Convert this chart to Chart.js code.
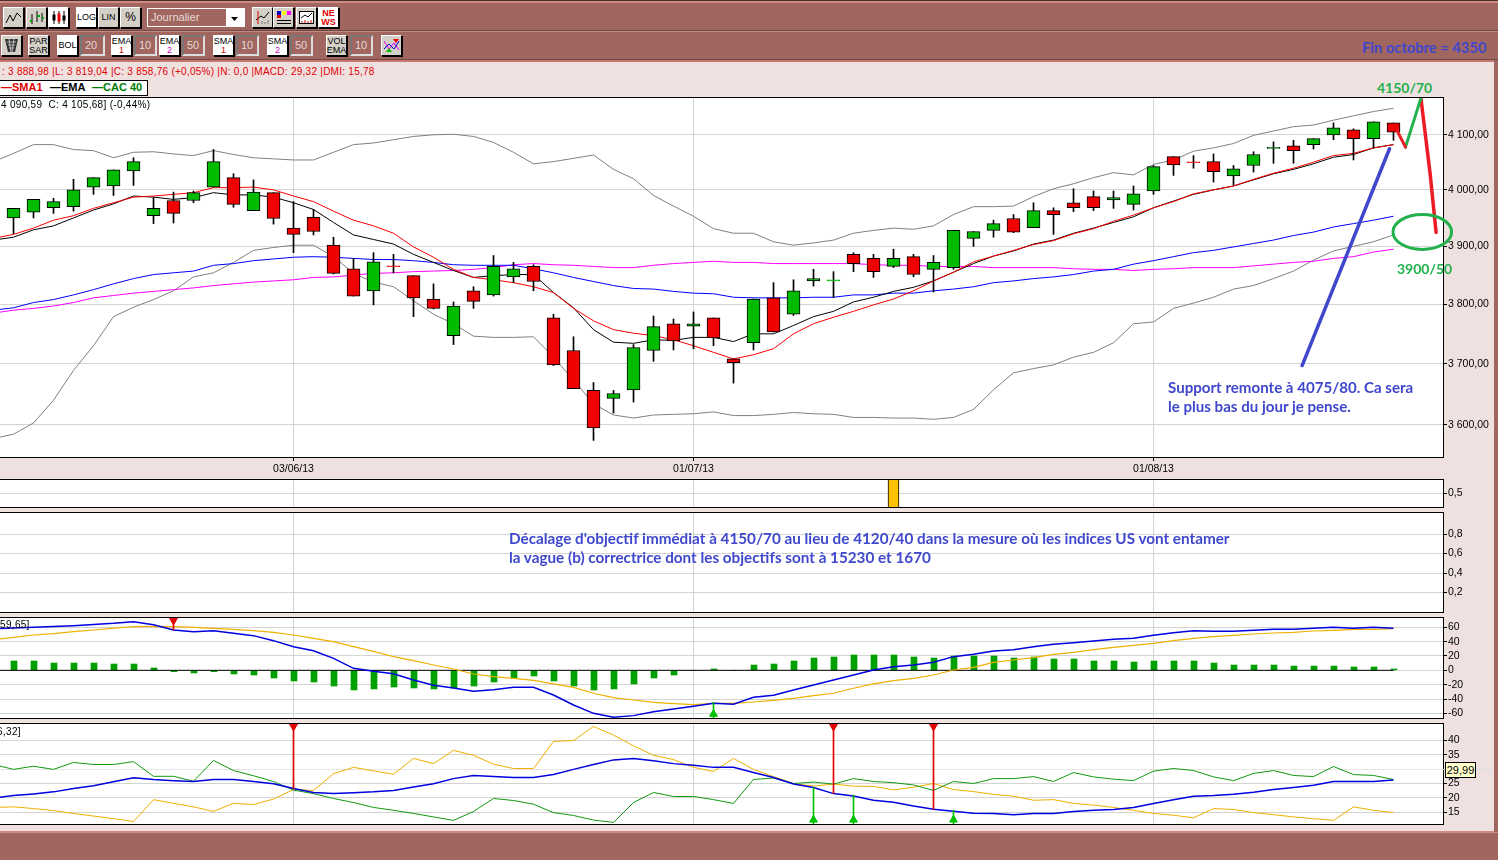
<!DOCTYPE html>
<html lang="fr">
<head>
<meta charset="utf-8">
<title>CAC 40 journalier</title>
<script src="https://cdn.jsdelivr.net/npm/chart.js@4"></script>
<style>
    html, body { margin: 0; padding: 0; }
    body { position: relative; width: 1498px; height: 860px; overflow: hidden; background: #f0e1e1; font-family: "Liberation Sans", Arial, sans-serif; }
    canvas { position: absolute; left: 0; }
    .band { position: absolute; background: #a0665f; }
    .rule { position: absolute; left: 0; width: 1498px; }
    .btn { position: absolute; top: 35px; width: 19px; height: 19px; box-sizing: content-box; background: #d4d0c8; border: 1px solid #000; border-left-color: #fff; border-top-color: #fff; font-size: 9px; line-height: 9px; text-align: center; color: #000; display: flex; align-items: center; justify-content: center; flex-direction: column; box-shadow: 1px 1px 0 #000; }
    .btn.on { background: #fff; }
    .row1 { top: 7px; }
    .btn small { font-size: 9px; line-height: 9px; }
    .fld { position: absolute; top: 35px; height: 17px; box-sizing: content-box; background: #a0665f; border: 2px solid; border-color: #777 #ddd #ddd #777; color: #e4d8d4; font-size: 11px; line-height: 17px; padding-left: 3px; }
    .txt { position: absolute; white-space: nowrap; }
    .note { position: absolute; white-space: nowrap; font-family: Lato, "Open Sans", sans-serif; font-weight: 700; color: #3f48cc; }
</style>
</head>
<body>
<div class="band" style="top:0;left:0;width:1498px;height:61px"></div>
<div class="rule" style="top:0;height:1px;background:#4a3230"></div>
<div class="rule" style="top:1px;height:2px;background:#d08a80"></div>
<div class="rule" style="top:30px;height:1px;background:#6e4a46"></div>
<div class="rule" style="top:31px;height:1px;background:#c08a80"></div>
<div class="rule" style="top:59px;height:1px;background:#6e4a46"></div>
<div class="rule" style="top:60px;height:2px;background:#c8786e"></div>
<div class="band" style="top:832px;left:0;width:1498px;height:28px"></div>
<div class="rule" style="top:831px;height:2px;background:#d08a80"></div>
<div class="band" style="top:60px;left:1494px;width:4px;height:772px"></div>

<!-- toolbar -->
<div class="btn row1" style="left:3px"><svg width="17" height="15"><polyline points="1,13 5,5 8,11 12,3 16,7" fill="none" stroke="#000"/></svg></div>
<div class="btn row1" style="left:26px"><svg width="17" height="15"><path d="M4 4v10M9 1v11M14 3v9" stroke="#000"/><path d="M2 11h2M9 6h3M14 8h2" stroke="#0a0" stroke-width="2"/></svg></div>
<div class="btn row1 on" style="left:48px"><svg width="17" height="15"><path d="M4 1v13M9 1v13M14 1v13" stroke="#000"/><rect x="2.5" y="4.5" width="3" height="6" fill="#000"/><rect x="7.5" y="3.5" width="3" height="8" fill="#e00"/><rect x="12.5" y="5.5" width="3" height="5" fill="#000"/></svg></div>
<div class="btn row1 on" style="left:76px">LOG</div>
<div class="btn row1" style="left:98px">LIN</div>
<div class="btn row1" style="left:120px;font-size:12px">%</div>
<div style="position:absolute;left:147px;top:8px;height:17px;border:1px solid #fff;background:#a0665f;color:#e8dcd8;font-size:11px;line-height:17px;padding-left:3px;box-sizing:content-box;width:93px">Journalier</div>
<div style="position:absolute;left:226px;top:9px;width:18px;height:17px;background:#fff"><svg width="18" height="17"><polygon points="5,8 12,8 8.5,12" fill="#000"/></svg></div>
<div class="btn row1" style="left:252px"><svg width="17" height="15"><polyline points="2,10 7,6 10,8 15,2" fill="none" stroke="#000"/><path d="M4 1v13" stroke="#d00"/><path d="M8 14v-3M11 14v-2M14 14v-4" stroke="#777"/></svg></div>
<div class="btn row1" style="left:273px"><svg width="17" height="15"><rect x="2" y="1" width="4" height="4" fill="#00c"/><rect x="7" y="1" width="4" height="4" fill="#ff0"/><rect x="12" y="1" width="4" height="4" fill="#f0f"/><rect x="2" y="5" width="4" height="3" fill="#e00"/><path d="M2 10.5h14M2 13.5h14" stroke="#000"/></svg></div>
<div class="btn row1" style="left:296px"><svg width="17" height="15"><rect x="1.5" y="1.5" width="14" height="12" fill="#fff" stroke="#000"/><polyline points="3,8 7,5 10,7 14,3" fill="none" stroke="#000"/><path d="M4 13v-2M7 13v-3M10 13v-2M13 13v-3" stroke="#d00"/></svg></div>
<div class="btn row1 on" style="left:318px;color:#e00000;font-weight:bold"><span>NE</span><span>WS</span></div>

<div class="btn" style="left:1px"><svg width="17" height="15"><polygon points="2,1 15,1 12,14 5,14" fill="#333"/><path d="M4 4h9M5 7h7M6 10h5M6 1l2 13M11 1l-2 13" stroke="#bbb"/></svg></div>
<div class="btn" style="left:28px"><span>PAR</span><span>SAR</span></div>
<div class="btn on" style="left:57px">BOL</div><div class="fld" style="left:80px;width:18px">20</div>
<div class="btn on" style="left:111px"><span>EMA</span><small style="color:#e00000">1</small></div><div class="fld" style="left:134px;width:16px">10</div>
<div class="btn on" style="left:159px"><span>EMA</span><small style="color:#c000c0">2</small></div><div class="fld" style="left:182px;width:16px">50</div>
<div class="btn on" style="left:213px"><span>SMA</span><small style="color:#e00000">1</small></div><div class="fld" style="left:236px;width:16px">10</div>
<div class="btn on" style="left:267px"><span>SMA</span><small style="color:#c000c0">2</small></div><div class="fld" style="left:290px;width:16px">50</div>
<div class="btn" style="left:326px"><span>VOL</span><span>EMA</span></div><div class="fld" style="left:350px;width:16px">10</div>
<div class="btn" style="left:381px"><svg width="17" height="15"><polyline points="1,3 6,11 11,5 16,12" fill="none" stroke="#e0f"/><polyline points="1,11 6,6 11,11 16,3" fill="none" stroke="#00c"/><polygon points="10,1 16,1 13,5" fill="#e00"/><polygon points="3,14 9,14 6,10" fill="#0b0"/></svg></div>
<div class="note" style="left:1362px;top:38px;font-size:14.7px">Fin octobre = 4350</div>

<!-- status line and legend -->
<div class="txt" style="left:2px;top:66px;font-size:10px;letter-spacing:.26px;color:#e00000">: 3 888,98 |L: 3 819,04 |C: 3 858,76 (+0,05%) |N: 0,0 |MACD: 29,32 |DMI: 15,78</div>
<div style="position:absolute;left:-1px;top:80px;width:147px;height:14px;background:#fff;border:1px solid #000"></div>
<div class="txt" style="left:1px;top:81px;font-size:11px;font-weight:bold;color:#e00000">—SMA1</div>
<div class="txt" style="left:50px;top:81px;font-size:11px;font-weight:bold;color:#000">—EMA</div>
<div class="txt" style="left:92px;top:81px;font-size:11px;font-weight:bold;color:#008000">—CAC 40</div>

<canvas id="priceChart" width="1498" height="382" style="top:97px"></canvas>
<canvas id="flagChart" width="1498" height="29" style="top:479px"></canvas>
<canvas id="emptyChart" width="1498" height="101" style="top:512px"></canvas>
<canvas id="macdChart" width="1498" height="102" style="top:617px"></canvas>
<canvas id="dmiChart" width="1498" height="102" style="top:723px"></canvas>

<div class="txt" style="left:1px;top:99px;font-size:10px;letter-spacing:.3px">4 090,59 &nbsp;C: 4 105,68] (-0,44%)</div>
<div class="txt" style="left:-3px;top:619px;font-size:10px;letter-spacing:.3px">[59,65]</div>
<div class="txt" style="left:-6px;top:726px;font-size:10px;letter-spacing:.3px">[6,32]</div>

<!-- hand written comments on the chart -->
<div class="note" style="left:1377px;top:79px;font-size:14px;color:#22b14c">4150/70</div>
<div class="note" style="left:1397px;top:260px;font-size:14px;color:#22b14c">3900/50</div>
<div class="note" style="left:1168px;top:378px;font-size:15.1px">Support remonte à 4075/80. Ca sera</div>
<div class="note" style="left:1168px;top:397px;font-size:15.1px">le plus bas du jour je pense.</div>
<div class="note" style="left:509px;top:529px;font-size:15.25px">Décalage d'objectif immédiat à 4150/70 au lieu de 4120/40 dans la mesure où les indices US vont entamer</div>
<div class="note" style="left:509px;top:548px;font-size:15.25px">la vague (b) correctrice dont les objectifs sont à 15230 et 1670</div>

<div style="position:absolute;left:1443px;top:769px;width:50px;height:1px;background:#d8e0e0"></div>
<div class="txt" style="left:1445px;top:762px;width:29px;height:14px;background:#ffffcc;border:1px solid #000;font-size:11px;line-height:14px;text-align:center">29,99</div>

<script>
// Daily candles (bar 0 sits at the left edge)
const opens = [3950,3960,3968,3970,4005,4007,4034,3954,3981,3981,
    4005,4022,3963,3995,3932,3951,3902,3861,3823,3865,
    3849,3809,3747,3823,3816,3847,3865,3777,3722,3656,
    3643,3657,3722,3767,3763,3777,3708,3735,3811,3783,
    3840,3840,3886,3879,3865,3882,3860,3863,3914,3928,
    3949,3933,3963,3977,3988,3982,3974,3998,4060,4049.5,
    4051,4025,4044,4075,4080,4082,4100,4109,4093,4122];
const highs = [3967,3983,3985,4019,4022,4036,4058,3986,3996,3998,
    4073,4029,4018,3995,3979,3965,3916,3879,3889,3886,
    3849,3835,3804,3830,3884,3872,3868,3783,3745,3669,
    3656,3732,3780,3775,3787,3777,3708,3809,3837,3842,
    3860,3856,3889,3886,3895,3886,3884,3928,3926,3946,
    3956,3977,3968,4002,3998,3998,4007,4044,4060,4062,
    4065,4044,4069,4087,4090,4093,4122,4111,4124,4122];
const lows = [3922,3950,3958,3962,3992,3990,4008,3940,3941,3977,
    4005,3969,3963,3939,3889,3920,3852,3814,3799,3854,
    3779,3792,3732,3793,3814,3837,3823,3697,3659,3575,
    3619,3637,3704,3723,3725,3730,3668,3723,3753,3781,
    3831,3812,3856,3846,3863,3847,3821,3860,3900,3916,
    3924,3933,3921,3961,3963,3967,3964,3992,4026,4039,
    4014,4009,4032,4048,4048,4074,4091,4054,4076,4090];
const closes = [3967,3983,3979,4000,4022,4036,4051,3967,3958,3995,
    4051,3974,3996,3949,3921,3926,3853,3814,3873,3864.5,
    3811,3793,3797,3805,3865,3861,3839,3698,3659,3595,
    3651,3727,3762,3738,3767,3743,3702,3809,3753,3823,
    3844,3841,3870,3856,3879,3851,3872,3928,3926,3940,
    3925,3963,3956,3968,3968,3986,3993,4042,4045,4049,
    4033,4038,4064,4076,4071,4093,4113,4093,4124,4105];
// Candles drawn as a plain coloured dash, without the black outline
const flatCandles = [19, 41, 59];

// Indicator lines: the first value is one bar before bar 0, cut by the left edge
const bollUpper = [4051,4066,4082,4082,4073,4071,4058,4068,4069,4065,4062,4071,4064,4058,4056,4054,4054,4068,4082,4085,4091,4097,4100,4101,4097,4086,
    4068,4047,4051,4057,4063,4037,4020,3990,3971,3953,3931,3923,3923,3908,3902,3906,3911,3923,3928,3932,3930,3936,3956,3970,3970,
    3971,3988,4002,4011,4022,4031,4027,4046,4054,4070,4076,4084,4099,4107,4115,4118,4127,4135,4143,4149];
const bollLower = [3578,3585,3603,3640,3689,3730,3779,3795,3808,3823,3847,3854,3872,3893,3898,3902,3902,3882,3853,3838,3830,3806,3783,3767,3746,3744,
    3744,3745,3711,3673,3634,3616,3611,3616,3617,3618,3621,3615,3615,3617,3620,3618,3617,3612,3612,3611,3611,3609,3612,3625,3657,
    3685,3692,3698,3711,3719,3735,3767,3770,3793,3802,3812,3826,3832,3844,3857,3876,3892,3900,3908,3920];
const sma1 = [3914,3921,3932,3946,3954,3967,3977,3987,3989,3992,3995,4004,4004,4005,4000,3989,3979,3962,3946,3936,3923,3899,3881,3860,3846,3842,
    3837,3830,3820,3793,3772,3757,3751,3747,3740,3730,3719,3708,3715,3725,3750,3767,3778,3788,3799,3809,3823,3840,3855,3873,3883,
    3893,3903,3910,3922,3931,3944,3955,3968,3979,3993,4000,4007,4019,4030,4039,4050,4062,4066,4076,4082];
const ema1 = [3911,3916,3929,3936,3950,3964,3975,3989,3987,3983,3986,3995,3991,3991,3987,3977,3965,3942,3920,3912,3904,3886,3872,3858,3846,3849,
    3851,3851,3820,3794,3757,3736,3734,3740,3739,3744,3744,3737,3750,3750,3764,3779,3788,3804,3812,3822,3829,3840,3855,3870,3883,
    3892,3904,3911,3923,3932,3942,3952,3968,3980,3992,4000,4007,4018,4029,4037,4047,4059,4064,4076,4082];
const ema50 = [3790,3794,3803,3808,3816,3825,3835,3844,3851,3854,3857,3867,3870,3875,3878,3881,3882,3881,3879,3877,3877,3875,3872,3868,3867,3867,
    3867,3861,3854,3846,3839,3832,3827,3826,3822,3819,3818,3812,3811,3811,3811,3812,3812,3816,3816,3819,3819,3823,3826,3830,3837,
    3840,3844,3847,3851,3857,3860,3869,3875,3882,3889,3893,3899,3905,3911,3919,3925,3934,3940,3946,3953];
const sma50 = [3785,3790,3793,3797,3803,3811,3815,3819,3822,3825,3828,3832,3835,3838,3840,3842,3846,3847,3850,3853,3854,3856,3857,3858,3860,3863,
    3868,3870,3868,3867,3865,3863,3863,3867,3870,3872,3874,3872,3872,3870,3870,3870,3870,3870,3868,3867,3867,3865,3865,3865,3863,
    3863,3863,3863,3861,3860,3860,3858,3860,3861,3863,3863,3863,3866,3869,3872,3874,3879,3882,3890,3895];

// MACD panel
const macdHist = [13,13,10.2,10.2,10.2,8.8,8.8,3.3,-1.9,-3.7,-1.9,-5.1,-6.5,-10.7,-14.9,-16.3,-21.9,-27.4,-26,-23.3,-24.6,-26,-24.6,-21.9,-16.3,
    -11.2,-7.9,-14.9,-21.9,-27.4,-26,-19,-10.7,-6.5,0,1.9,0,7.4,8.8,13,17.2,18.6,21.4,21.4,21.4,18.6,17.2,20,20,20,
    17.2,18.6,15.8,15.8,13,13,11.6,13,13,13,10.2,7.4,7.4,7.4,6,6,6,4.7,4.7,1.9];
const macdLine = [58,59,60,61,62.3,64,65.6,67.9,63.7,56.3,53.9,55.3,51.6,48.4,41.4,33,27.4,16.7,2.8,-1.4,-4.7,-13.5,-20.9,-24.6,-29.3,-27,
    -23.7,-23.7,-34.4,-48.4,-60,-65.6,-63.2,-57.7,-53.9,-50.2,-46,-47.4,-37.7,-34.9,-27.4,-20.5,-13.5,-6.5,0.5,5.1,7.4,11.2,19.1,22.3,27,
    28.8,33,36.3,38.6,40.9,43.2,44.6,48.8,52.5,55.3,54.4,54.4,55.8,57.2,57.2,58.6,60,58.6,60,58.6];
const macdSignal = [43,46,49.3,51.2,53.9,56.3,59,60.9,61.4,60.9,60,58.6,57.2,55.3,53,49.3,44.6,40,33,26.5,19,13.5,7.4,1.9,-5.1,-8.8,
    -11.2,-14,-19,-23.7,-32,-38,-41.4,-44.6,-46.5,-47.9,-46,-46,-44.2,-41.9,-39,-35.3,-32,-25,-19,-14.4,-11.2,-6.5,0.5,4.2,11.2,
    14.4,17.7,22.3,25.1,28.8,32.1,34.9,37.7,41.4,44.6,47,48.8,50.7,52.1,53,54.9,55.8,57.2,57.2,58];
const macdSellBars = [8];
const macdSellLevels = [56.3];
const macdBuyBars = [35];
const macdBuyLevels = [-44.6];

// DMI panel
const diPlus = [31.6,29.9,31,29.9,32.3,31.6,31.6,32.6,27.5,27.5,25.8,33,29.5,27.7,25.7,22.7,21.5,19.8,18.4,16.7,15.7,14.6,13.4,12.2,15.3,19.8,
    19.1,17.8,14.9,13.9,12.3,11.5,18.4,21.9,20.5,20.5,19.4,18.1,26.4,26.9,25,25.5,24.8,26.7,25.7,25.3,24.5,22.6,25.7,25,26.7,
    26.7,27.4,25.7,28.8,27.3,26.5,26,29.3,30.2,29.5,27.3,26,28.5,29.5,27.8,27.4,30.9,28.1,27.8,26.4];
const diMinus = [16.7,16.9,16.3,15.6,14.6,13.7,12.8,11.8,19.4,18.1,16.9,15.3,18.1,17.7,19.6,22.9,22.6,28.4,30.6,29.4,28.2,33.7,31.9,36.5,34.8,31.7,
    30.2,30.2,39.6,39.9,44.8,41.8,38.1,34.8,33.3,30.6,29.2,33.7,29.9,27.4,25,24.1,24.8,24.1,24,22.8,23.7,25,22.9,22.2,21.2,
    20.6,19.2,19.4,18.1,17.5,16.7,15.7,14.6,14,13.1,16.3,16,14.9,14.2,13.4,12.8,12.2,16.9,15.7,14.9];
const adx = [20,20.8,21.4,22.1,23.3,24.2,25.6,27,26.4,26,25.7,26.4,26.4,25.7,24.9,23.3,21.9,21.5,21.8,22.1,22.6,23.8,24.9,26.7,27.8,27.4,
    27.1,27.1,28.1,29.9,31.6,33.2,33.7,32.9,31.9,31.3,30.6,30.6,28.8,27.1,24.8,23.6,21.5,20.7,19.2,18.5,17.2,16.1,15.4,14.7,14.6,
    14.2,14.6,14.6,15.3,15.7,16,16.7,18.1,19.4,20.6,20.8,21.3,22,22.9,23.6,24.4,25.7,25.7,25.7,26.2];
const dmiSellBars = [14, 41, 46];
const dmiSellLevels = [23.3, 21.5, 16.1];
const dmiBuyBars = [40, 42, 47];
const dmiBuyLevels = [23.6, 21, 15.7];

// Single flag in the thin panel
const flagBars = [44];

// Axis ticks
const dateTickBars = [14, 34, 57];
const dateTickLabels = ['03/06/13', '01/07/13', '01/08/13'];
const priceTicks = [4100, 4000, 3900, 3800, 3700, 3600];
const priceTickLabels = ['4 100,00', '4 000,00', '3 900,00', '3 800,00', '3 700,00', '3 600,00'];
const flagTicks = [0.5];
const flagTickLabels = ['0,5'];
const emptyTicks = [0.8, 0.6, 0.4, 0.2];
const emptyTickLabels = ['0,8', '0,6', '0,4', '0,2'];
const macdTicks = [60, 40, 20, 0, -20, -40, -60];
const macdTickLabels = ['60', '40', '20', '0', '-20', '-40', '-60'];
const dmiTicks = [40, 35, 30, 25, 20, 15];
const dmiTickLabels = ['40', '35', '30', '25', '20', '15'];

// Hand drawn scenario (bar, price)
const pullbackBars = [69.2, 69.6];
const pullbackPrices = [4106, 4077.5];
const riseBars = [69.6, 70.37];
const risePrices = [4077.5, 4168];
const dropBars = [70.37, 70.83, 71.13];
const dropPrices = [4168, 4029.6, 3924.6];
const supportBars = [68.8, 64.43];
const supportPrices = [4074.5, 3697];
const targetCircle = { bar: 70.44, barRadius: 1.465, top: 3956, bottom: 3894.7 };

const GRID = '#d4d4d4';
const FONT = { family: '"Liberation Sans", Arial, sans-serif', size: 10.5 };
const CANDLE_UP = '#00bb00';
const CANDLE_DOWN = '#f00000';
// bars 6 px wide would straddle pixels, shift them half a pixel
const HALF_PIXEL = 0.025;

const toPoints = (xs, ys) => xs.map((x, i) => ({ x, y: ys[i] }));

// Indicator line whose first value belongs to the bar before bar 0
function indicator(values, color, width = 1, order = 3) {
    return {
        type: 'line',
        data: values.map((y, i) => ({ x: i - 1, y })),
        borderColor: color,
        borderWidth: width,
        pointRadius: 0,
        tension: 0,
        order
    };
}

function sketchLine(xs, ys, color, width) {
    return {
        type: 'line',
        data: toPoints(xs, ys),
        borderColor: color,
        borderWidth: width,
        borderCapStyle: 'round',
        pointRadius: 0,
        tension: 0,
        clip: false,
        order: -1
    };
}

// Signal: a thin stem plus a triangle on the panel edge
function signalSets(bars, levels, edge, tip, color, rotation) {
    return [{
        type: 'bar',
        data: bars.map((x, i) => ({ x, y: [levels[i], edge] })),
        backgroundColor: color,
        barThickness: 1,
        grouped: false,
        order: 0
    }, {
        type: 'scatter',
        data: bars.map(x => ({ x, y: tip })),
        pointStyle: 'triangle',
        rotation,
        pointRadius: 4.5,
        backgroundColor: color,
        borderColor: color,
        order: 0
    }];
}

// White background, black frame
const panelPlugin = {
    id: 'panel',
    beforeDraw(chart) {
        const { ctx, chartArea: a } = chart;
        ctx.save();
        ctx.fillStyle = '#fff';
        ctx.fillRect(a.left, a.top, a.right - a.left, a.bottom - a.top);
        ctx.restore();
    },
    afterDraw(chart) {
        const { ctx, chartArea: a } = chart;
        ctx.save();
        ctx.strokeStyle = '#000';
        ctx.lineWidth = 1;
        ctx.strokeRect(-2, a.top + 0.5, a.right + 2.5, a.bottom - a.top - 1);
        ctx.restore();
    }
};

// Ellipse round the target zone
const circlePlugin = {
    id: 'targetCircle',
    afterDraw(chart) {
        const { ctx, scales: { x, y } } = chart;
        const cx = x.getPixelForValue(targetCircle.bar);
        const rx = x.getPixelForValue(targetCircle.bar + targetCircle.barRadius) - cx;
        const top = y.getPixelForValue(targetCircle.top);
        const bottom = y.getPixelForValue(targetCircle.bottom);
        ctx.save();
        ctx.strokeStyle = '#22b14c';
        ctx.lineWidth = 3;
        ctx.beginPath();
        ctx.ellipse(cx, (top + bottom) / 2, rx, (bottom - top) / 2, 0, 0, Math.PI * 2);
        ctx.stroke();
        ctx.restore();
    }
};

function makePanel(id, datasets, yOptions, tickValues, tickLabels, withDates, plugins = []) {
    return new Chart(document.getElementById(id), {
        type: 'bar',
        data: { datasets },
        plugins: [panelPlugin, ...plugins],
        options: {
            responsive: false,
            animation: false,
            devicePixelRatio: 1,
            events: [],
            layout: { padding: 0, autoPadding: false },
            plugins: { legend: { display: false }, tooltip: { enabled: false } },
            scales: {
                x: {
                    type: 'linear',
                    min: -0.675,
                    max: 71.475,
                    offset: false,
                    border: { display: false },
                    grid: { offset: false, color: GRID, tickColor: '#000', tickLength: 3, drawTicks: withDates },
                    ticks: {
                        display: withDates,
                        autoSkip: false,
                        maxRotation: 0,
                        padding: 2,
                        color: '#000',
                        font: FONT,
                        callback: value => dateTickLabels[dateTickBars.indexOf(value)]
                    },
                    afterBuildTicks: scale => { scale.ticks = dateTickBars.map(value => ({ value })); },
                    afterFit: scale => {
                        scale.height = withDates ? 21 : 0;
                        scale.paddingLeft = 0;
                        scale.paddingRight = 0;
                    }
                },
                y: {
                    position: 'right',
                    bounds: 'data',
                    border: { display: false },
                    grid: {
                        tickColor: '#000',
                        tickLength: 4,
                        color: ctx => (id === 'dmiChart' && ctx.tick && ctx.tick.value === 30 ? '#e6e6e6' : GRID)
                    },
                    ticks: {
                        autoSkip: false,
                        padding: 1,
                        color: '#000',
                        font: FONT,
                        callback: value => tickLabels[tickValues.indexOf(value)]
                    },
                    afterBuildTicks: scale => { scale.ticks = tickValues.map(value => ({ value })); },
                    afterFit: scale => {
                        scale.width = 55;
                        scale.paddingTop = 0;
                        scale.paddingBottom = 0;
                    },
                    ...yOptions
                }
            }
        }
    });
}

const barIndex = opens.map((_, i) => i);

// Price panel
makePanel('priceChart', [
    sketchLine(pullbackBars, pullbackPrices, '#ed1c24', 3),
    sketchLine(riseBars, risePrices, '#22b14c', 3),
    sketchLine(dropBars, dropPrices, '#ed1c24', 3.5),
    sketchLine(supportBars, supportPrices, '#3f48cc', 3.5),
    {
        data: barIndex.map(i => ({ x: i, y: [opens[i], closes[i]] })),
        backgroundColor: barIndex.map(i => (closes[i] >= opens[i] ? CANDLE_UP : CANDLE_DOWN)),
        borderColor: barIndex.map(i => {
            if (!flatCandles.includes(i)) return '#000';
            return closes[i] >= opens[i] ? CANDLE_UP : CANDLE_DOWN;
        }),
        borderWidth: 1,
        borderSkipped: false,
        barThickness: 13,
        minBarLength: 1,
        grouped: false,
        order: 1
    },
    {
        data: barIndex.map(i => ({ x: i, y: [lows[i], highs[i]] })),
        backgroundColor: '#000',
        barThickness: 1,
        grouped: false,
        order: 2
    },
    indicator(sma1, '#ff0000'),
    indicator(ema1, '#000000'),
    indicator(ema50, '#0000ff'),
    indicator(sma50, '#ff00ff'),
    indicator(bollUpper, '#808080'),
    indicator(bollLower, '#808080')
], { type: 'logarithmic', min: 3546.9, max: 4170.1 }, priceTicks, priceTickLabels, true, [circlePlugin]);

// Thin panel with the gold flag
makePanel('flagChart', [{
    data: flagBars.map(x => ({ x, y: [0, 1] })),
    backgroundColor: '#ffc000',
    borderColor: '#000',
    borderWidth: 1,
    borderSkipped: false,
    barThickness: 11,
    grouped: false
}], { min: 0, max: 1 }, flagTicks, flagTickLabels, false);

// Empty panel that only carries the comment
makePanel('emptyChart', [], { min: -0.01, max: 1.026 }, emptyTicks, emptyTickLabels, false);

// MACD
makePanel('macdChart', [
    ...signalSets(macdSellBars, macdSellLevels, 74.4, 69.6, '#e00000', 180),
    ...signalSets(macdBuyBars, macdBuyLevels, -67.9, -61, '#00c000', 0),
    indicator(macdLine, '#0000e0', 1.5, 1),
    indicator(macdSignal, '#f0b000', 1.2, 2),
    {
        type: 'line',
        data: toPoints([-1, 69], [0, 0]),
        borderColor: '#000',
        borderWidth: 1,
        pointRadius: 0,
        order: 3
    },
    {
        data: macdHist.map((y, i) => ({ x: i + HALF_PIXEL, y })),
        backgroundColor: '#00a000',
        barThickness: 6,
        grouped: false,
        order: 4
    }
], { min: -67.9, max: 74.4 }, macdTicks, macdTickLabels, false);

// DMI
makePanel('dmiChart', [
    ...signalSets(dmiSellBars, dmiSellLevels, 46, 44.8, '#e00000', 180),
    ...signalSets(dmiBuyBars, dmiBuyLevels, 10.6, 12.4, '#00c000', 0),
    indicator(adx, '#0000e0', 1.5, 1),
    indicator(diPlus, '#109a10', 1, 2),
    indicator(diMinus, '#f0b000', 1, 2)
], { min: 10.6, max: 46 }, dmiTicks, dmiTickLabels, false);
</script>
</body>
</html>
